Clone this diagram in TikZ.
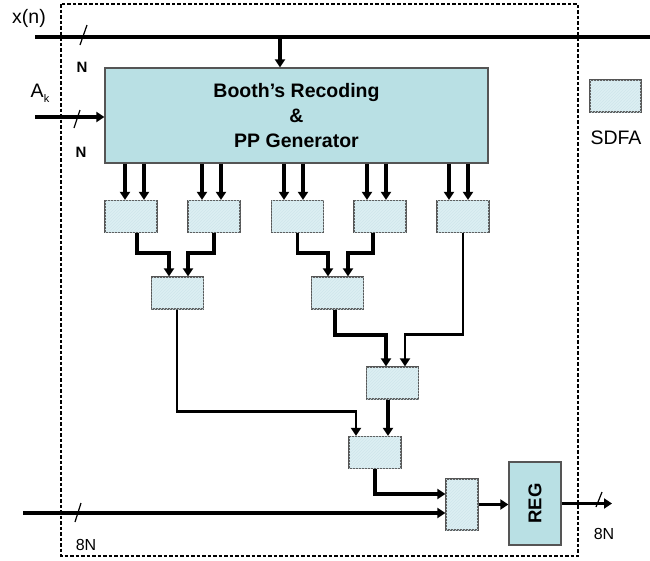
\documentclass[tikz,border=0pt]{standalone}
\usepackage{fontspec}
\setmainfont{Liberation Sans}
\usetikzlibrary{arrows.meta,patterns}
\usepackage{xcolor}
\definecolor{boothfill}{HTML}{B9E0E4}
\definecolor{fafill}{HTML}{DDEFF3}
\definecolor{fahatch}{HTML}{CFE6EB}
\definecolor{boxline}{HTML}{555555}

\begin{document}
\begin{tikzpicture}[x=1pt,y=-1pt,>={Triangle[length=8pt,width=10pt]},
	font=\fontsize{19.5}{25}\selectfont,
	bus/.style={line width=3.8pt},
	wire/.style={line width=2.8pt},
	fa/.style={draw=boxline,line width=1.3pt,fill=fafill,
		postaction={pattern=north east lines,pattern color=fahatch},
		minimum width=52pt,minimum height=32pt,inner sep=0pt},
	blk/.style={draw=boxline,line width=1.3pt,fill=boothfill,inner sep=0pt},
	tick/.style={line width=1.2pt},
	buslabel/.style={font=\fontsize{15}{15}\selectfont\bfseries}]
	\useasboundingbox (0,0) rectangle (650,560);
	% dashed frame
	\draw[line width=1.8pt,dash pattern=on 3.5pt off 2pt] (61,4) rectangle (578,556);

	\node[blk,minimum width=383pt,minimum height=95pt,align=center,
		font=\fontsize{19.5}{25}\selectfont\bfseries] (booth) at (296.5,115.5)
		{Booth’s Recoding\\\&\\PP Generator};
	\node[fa,minimum width=51pt] (legend) at (615.5,96) {};
	\node (sdfa) at (616,138) {SDFA};

	% inputs
	\coordinate (xin) at (35,37);
	\coordinate (xend) at (650,37);
	\coordinate (xtap) at (280,37);
	\coordinate (akin) at (35,117);
	\draw[line width=4pt] (xin) -- (xend);
	\draw[bus,->] (xtap) -- (xtap |- booth.north);
	\draw[bus,->] (akin) -- (akin -| booth.west);
	\node (xn) at (29,18) {x(n)};
	\node (ak) at (40,93) {A\raisebox{-5pt}{\fontsize{11}{11}\selectfont k}};
	\node[buslabel] (nx) at (82,67) {N};
	\node[buslabel] (na) at (81,152) {N};
	\draw[tick] (87,25) -- (80,45);
	\draw[tick] (80,110) -- (74,128);

	% first row of adders
	\foreach \n/\x/\l/\r in {1/131/-6/13, 2/214/-12/7, 3/297.5/-13.5/5.5,
			4/380/-13/6, 5/463/-14/5} {
		\node[fa] (fa\n) at (\x,216.5) {};
		\draw[bus,->] ([xshift=\l pt]fa\n.north |- booth.south) -- ([xshift=\l pt]fa\n.north);
		\draw[bus,->] ([xshift=\r pt]fa\n.north |- booth.south) -- ([xshift=\r pt]fa\n.north);
	};

	\node[fa] (fa6) at (177.5,293) {};
	\node[fa] (fa7) at (337.5,293) {};
	\node[fa] (fa8) at (392.5,383) {};
	\node[fa] (fa9) at (375,452.5) {};
	\node[fa,minimum width=32pt,minimum height=51pt] (fa10) at (462,504.5) {};
	\node[blk,minimum width=52pt,minimum height=83pt] (reg) at (535,503.5)
		{\rotatebox{90}{\fontsize{18.5}{20}\selectfont\bfseries REG}};

	\draw[bus,->] ([xshift=6pt]fa1.south) -- ++(0,20) -| ([xshift=-8.5pt]fa6.north);
	\draw[bus,->] (fa2.south) -- ++(0,20) -| ([xshift=10.5pt]fa6.north);
	\draw[bus,->] (fa3.south) -- ++(0,20) -| ([xshift=-9.5pt]fa7.north);
	\draw[bus,->] ([xshift=-7pt]fa4.south) -- ++(0,20) -| ([xshift=10.5pt]fa7.north);
	\draw[bus,->] ([xshift=-2.5pt]fa7.south) -- ++(0,25) -| ([xshift=-6.5pt]fa8.north);
	\draw[wire,->] (fa5.south) -- ++(0,101.5) -| ([xshift=12.5pt]fa8.north);
	\draw[wire,->] ([xshift=-0.5pt]fa6.south) -- ++(0,102) -| ([xshift=-19pt]fa9.north);
	\draw[bus,->] ([xshift=-4.5pt]fa8.south) -- ([xshift=13pt]fa9.north);
	\draw[bus,->] (fa9.south) |- ([yshift=10.5pt]fa10.west);

	% output side
	\coordinate (din) at (23,513);
	\coordinate (dout) at (612,503.5);
	\draw[bus,->] (din) -- (din -| fa10.west);
	\draw[bus,->] (fa10.east) -- (fa10.east -| reg.west);
	\draw[bus,->] (reg.east) -- (dout);
	\draw[tick] (81,503) -- (75,522);
	\draw[tick] (602,492) -- (596,507);
	\node (nin) at (86,545) {\fontsize{16}{16}\selectfont 8N};
	\node (nout) at (604,534) {\fontsize{16}{16}\selectfont 8N};
\end{tikzpicture}
\end{document}
